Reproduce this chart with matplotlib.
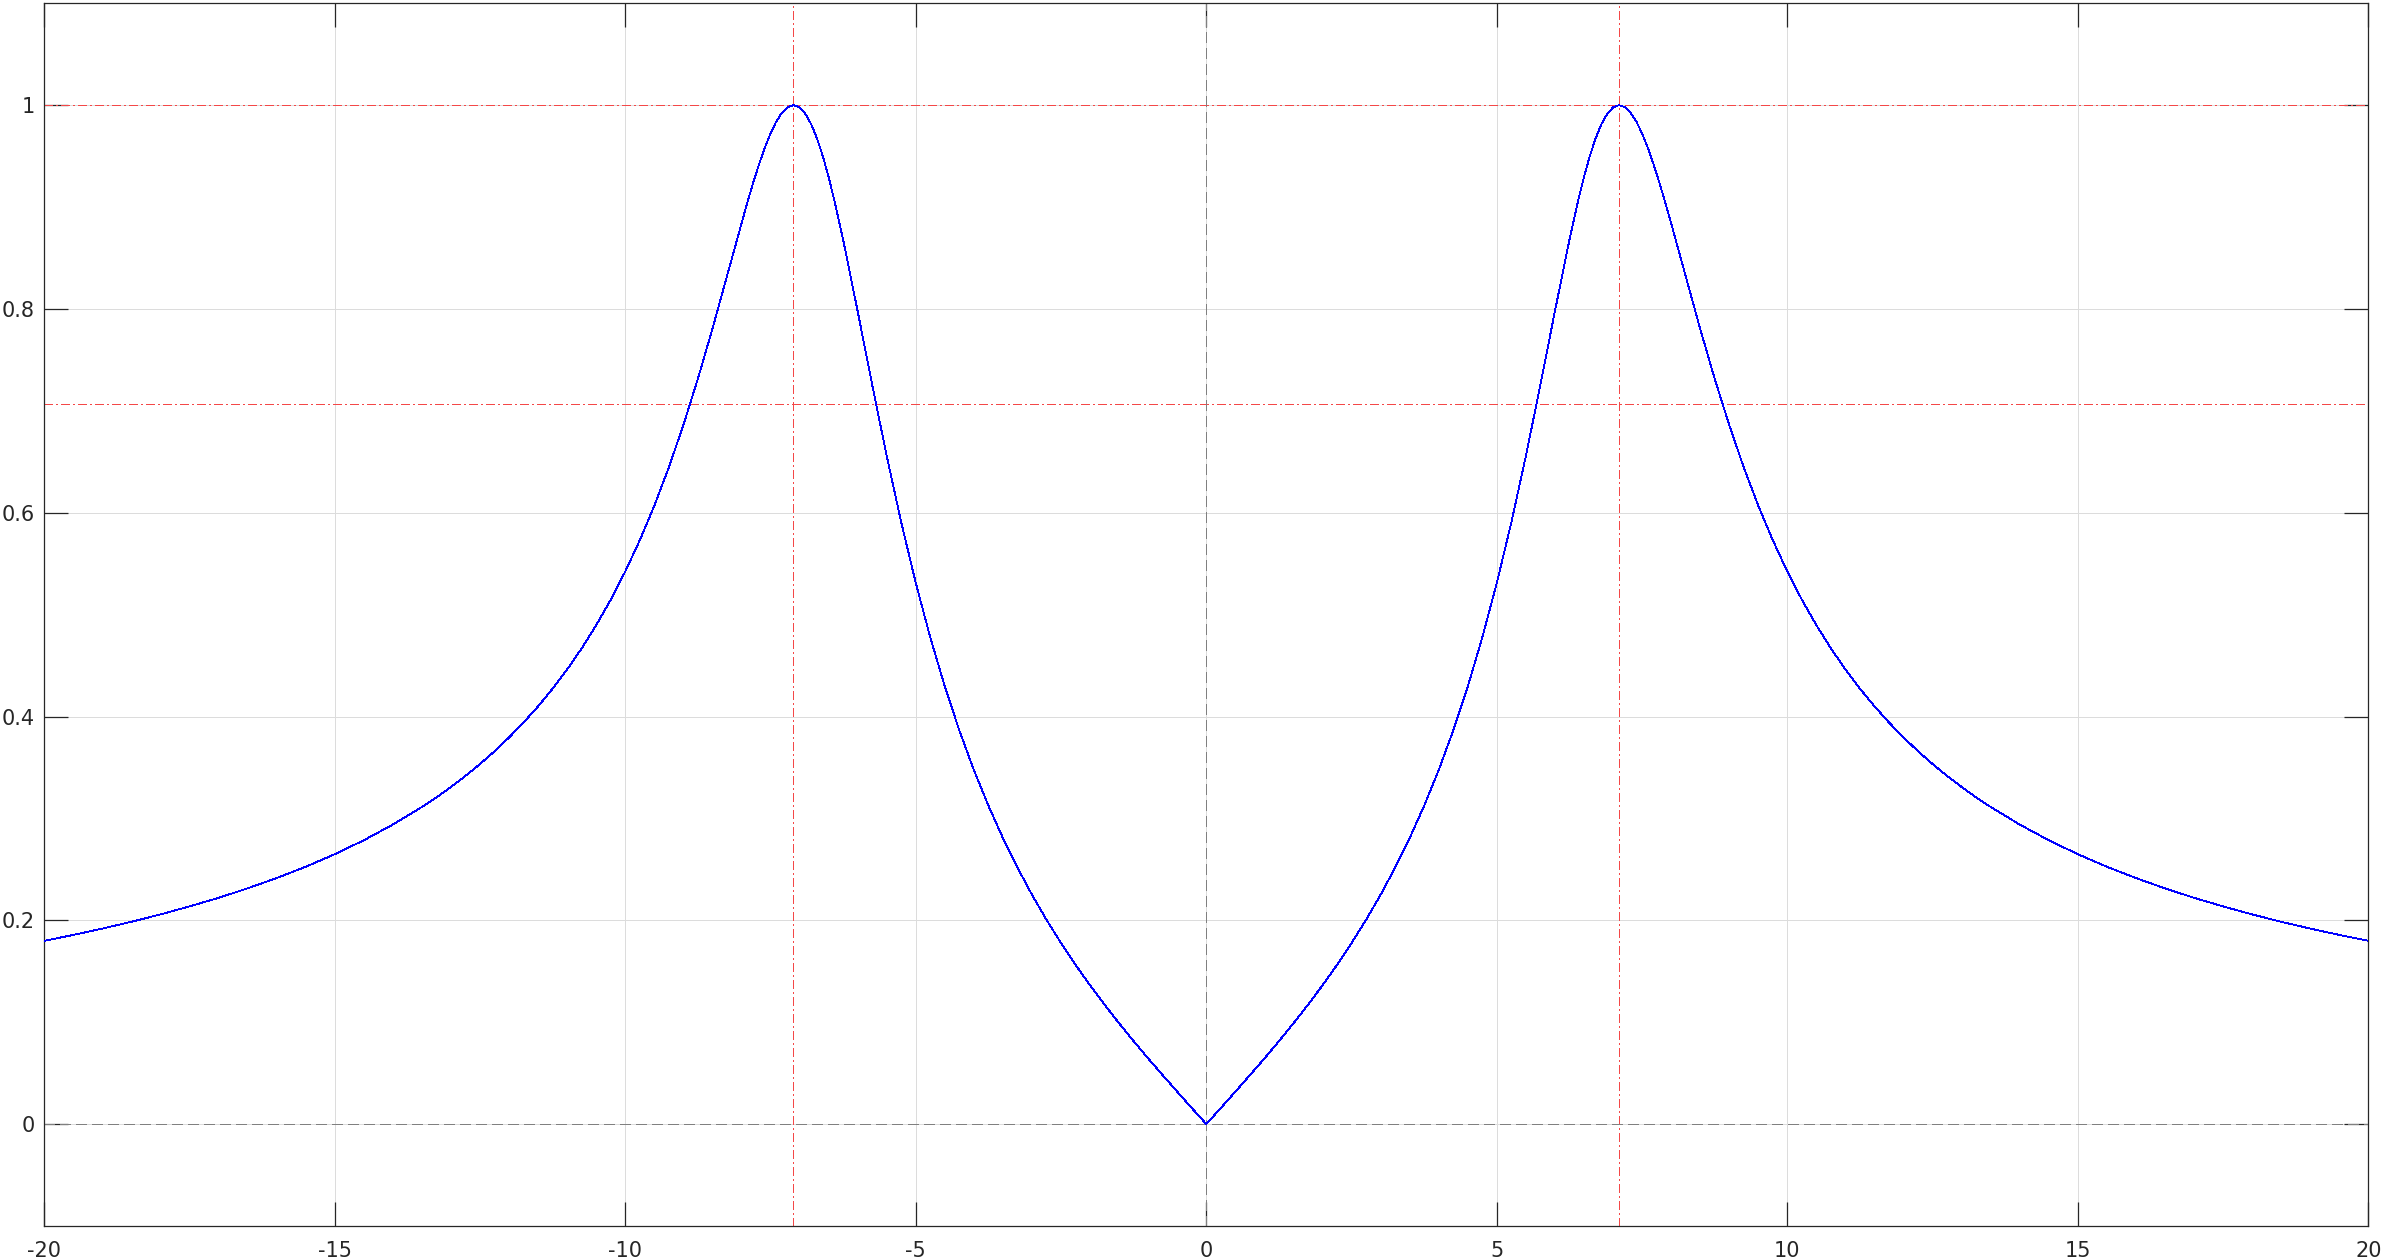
import matplotlib
matplotlib.use('Agg')
import matplotlib.pyplot as plt
import matplotlib.ticker as ticker

# |H(w)|, negative half then positive half
w_neg = [-20, -19.5, -19, -18.5, -18, -17.5, -17, -16.5, -16, -15.5, -15,
         -14.5, -14, -13.5, -13.25, -13, -12.75, -12.5, -12.25, -12, -11.75,
         -11.5, -11.25, -11, -10.75, -10.5, -10.25, -10, -9.75, -9.5, -9.25,
         -9, -8.75, -8.5, -8.25, -8, -7.9, -7.8, -7.7, -7.6, -7.5, -7.4, -7.3,
         -7.2, -7.1, -7, -6.9, -6.8, -6.7, -6.6, -6.5, -6.4, -6.25, -6, -5.75,
         -5.5, -5.25, -5, -4.75, -4.5, -4.25, -4, -3.75, -3.5, -3.25, -3, -2.75,
         -2.5, -2.25, -2, -1.75, -1.5, -1.25, -1, -0.75, -0.5, -0.25]
m_neg = [0.1799, 0.1857, 0.1919, 0.1986, 0.2058, 0.2137, 0.2221, 0.2314, 0.2415,
         0.2526, 0.2649, 0.2786, 0.2940, 0.3113, 0.3207, 0.3309, 0.3418, 0.3534,
         0.3660, 0.3795, 0.3942, 0.4101, 0.4274, 0.4463, 0.4670, 0.4897, 0.5148,
         0.5424, 0.5731, 0.6070, 0.6446, 0.6862, 0.7316, 0.7806, 0.8323, 0.8843,
         0.9044, 0.9237, 0.9417, 0.9581, 0.9724, 0.9842, 0.9929, 0.9983, 1.0000,
         0.9978, 0.9915, 0.9813, 0.9673, 0.9499, 0.9294, 0.9063, 0.8678, 0.7977,
         0.7254, 0.6556, 0.5904, 0.5310, 0.4775, 0.4294, 0.3863, 0.3474, 0.3125,
         0.2807, 0.2517, 0.2251, 0.2005, 0.1777, 0.1563, 0.1362, 0.1171, 0.0989,
         0.0814, 0.0644, 0.0480, 0.0318, 0.0158]

w_pos = [0.25, 0.5, 0.75, 1, 1.25, 1.5, 1.75, 2, 2.25, 2.5, 2.75, 3, 3.25, 3.5,
         3.75, 4, 4.25, 4.5, 4.75, 5, 5.25, 5.5, 5.75, 6, 6.25, 6.4, 6.5, 6.6,
         6.7, 6.8, 6.9, 7, 7.1, 7.2, 7.3, 7.4, 7.5, 7.6, 7.7, 7.8, 7.9, 8, 8.25,
         8.5, 8.75, 9, 9.25, 9.5, 9.75, 10, 10.25, 10.5, 10.75, 11, 11.25, 11.5,
         11.75, 12, 12.25, 12.5, 12.75, 13, 13.25, 13.5, 14, 14.5, 15, 15.5, 16,
         16.5, 17, 17.5, 18, 18.5, 19, 19.5, 20]
m_pos = [0.0158, 0.0318, 0.0480, 0.0644, 0.0814, 0.0989, 0.1171, 0.1362, 0.1563,
         0.1777, 0.2005, 0.2251, 0.2517, 0.2807, 0.3125, 0.3474, 0.3863, 0.4294,
         0.4775, 0.5310, 0.5904, 0.6556, 0.7254, 0.7977, 0.8678, 0.9063, 0.9294,
         0.9499, 0.9673, 0.9813, 0.9915, 0.9978, 1.0000, 0.9983, 0.9929, 0.9842,
         0.9724, 0.9581, 0.9417, 0.9237, 0.9044, 0.8843, 0.8323, 0.7806, 0.7316,
         0.6862, 0.6446, 0.6070, 0.5731, 0.5424, 0.5148, 0.4897, 0.4670, 0.4463,
         0.4274, 0.4101, 0.3942, 0.3795, 0.3660, 0.3534, 0.3418, 0.3309, 0.3207,
         0.3113, 0.2940, 0.2786, 0.2649, 0.2526, 0.2415, 0.2314, 0.2221, 0.2137,
         0.2058, 0.1986, 0.1919, 0.1857, 0.1799]

omega = w_neg + [0] + w_pos
mag = m_neg + [0.0] + m_pos

# reference lines
peak_w = [-7.11, 7.11]
level_lines = [1.0, 0.707]

x_ticks = [-20, -15, -10, -5, 0, 5, 10, 15, 20]
y_ticks = [0, 0.2, 0.4, 0.6, 0.8, 1]

plt.rcParams['font.family'] = 'DejaVu Sans'
plt.rcParams['lines.scale_dashes'] = False
plt.rcParams['lines.antialiased'] = False

fig = plt.figure(figsize=(23.84, 12.6), dpi=100)
ax = fig.add_axes([0.01858, 0.02698, 0.97483, 0.97040])

ax.set_xlim(-20, 20)
ax.set_ylim(-0.1, 1.1)
ax.set_xticks(x_ticks)
ax.set_yticks(y_ticks)
ax.xaxis.set_major_formatter(ticker.FuncFormatter(lambda v, p: '%g' % v))
ax.yaxis.set_major_formatter(ticker.FuncFormatter(lambda v, p: '%g' % v))

ax.grid(True, color='#dcdcdc', linewidth=0.72, zorder=0)
ax.set_axisbelow(True)

dashdot = (0, (5.8, 2.2, 1.4, 2.2))
dashed = (0, (7.2, 4.3))
for yv in level_lines:
    ax.axhline(yv, color='#f44848', linewidth=0.72, linestyle=dashdot, zorder=2)
for xv in peak_w:
    ax.axvline(xv, color='#f44848', linewidth=0.72, linestyle=dashdot, zorder=2)
ax.axhline(0, color='#808080', linewidth=0.72, linestyle=dashed, zorder=2)
ax.axvline(0, color='#808080', linewidth=0.72, linestyle=dashed, zorder=2)

ax.plot(omega, mag, color='#0000ff', linewidth=0.6, zorder=3)

for s in ax.spines.values():
    s.set_color('#262626')
    s.set_linewidth(0.9)
ax.tick_params(which='both', direction='in', top=True, right=True,
               length=17.3, width=0.9, color='#262626',
               labelsize=15, labelcolor='#262626')
ax.tick_params(axis='x', pad=11)
ax.tick_params(axis='y', pad=6.8)

fig.savefig('out.png', dpi=100)
